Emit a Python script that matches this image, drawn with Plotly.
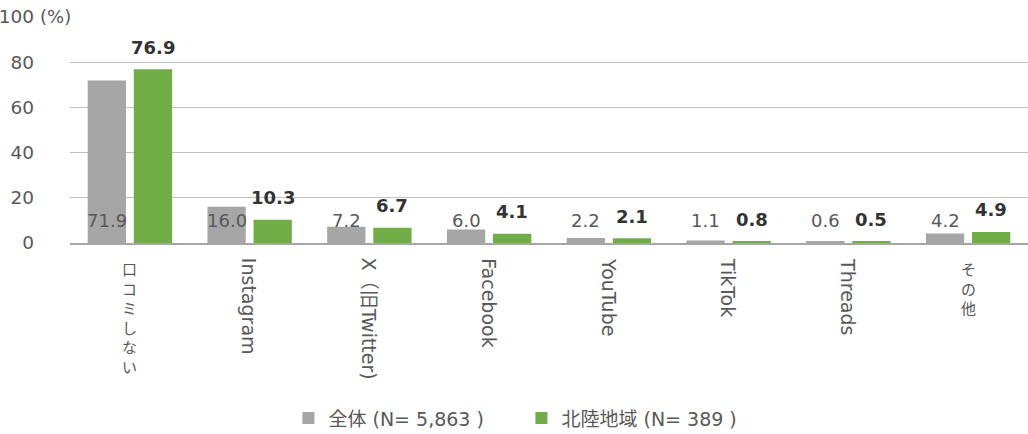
import plotly.graph_objects as go

categories = ["口コミしない", "Instagram", "X（旧Twitter)", "Facebook", "YouTube", "TikTok", "Threads", "その他"]
label_vertical_upright = [True, False, False, False, False, False, False, True]
series_names = ["全体 (N= 5,863 )", "北陸地域 (N= 389 )"]
values_all = [71.9, 16.0, 7.2, 6.0, 2.2, 1.1, 0.6, 4.2]
values_hokuriku = [76.9, 10.3, 6.7, 4.1, 2.1, 0.8, 0.5, 4.9]
y_tickvals = [0, 20, 40, 60, 80, 100]
y_ticktext = ["0", "20", "40", "60", "80", "100"]

GRAY = "#a6a6a6"
GREEN = "#70ad47"
TXT = "#595959"
FONT = "DejaVu Sans, Noto Sans CJK JP, sans-serif"

fig = go.Figure()
fig.add_trace(go.Bar(x=categories, y=values_all, name=series_names[0],
                     marker=dict(color=GRAY, line=dict(width=0))))
fig.add_trace(go.Bar(x=categories, y=values_hokuriku, name=series_names[1],
                     marker=dict(color=GREEN, line=dict(width=0))))

annotations = []
for cat, va, vh, upright in zip(categories, values_all, values_hokuriku, label_vertical_upright):
    annotations.append(dict(x=cat, y=0, xref="x", yref="y", text=f"{va:.1f}",
                            showarrow=False, xshift=-23, yshift=23, yanchor="middle",
                            font=dict(family=FONT, size=18, color=TXT)))
    annotations.append(dict(x=cat, y=vh, xref="x", yref="y", text=f"<b>{vh:.1f}</b>",
                            showarrow=False, xshift=23, yshift=22, yanchor="middle",
                            font=dict(family=FONT, size=18, color="#333333")))
    if upright:
        annotations.append(dict(x=cat, y=0, xref="x", yref="paper",
                                text="<br>".join(list(cat)), showarrow=False,
                                yanchor="top", yshift=-13, textangle=0,
                                font=dict(family="Noto Sans CJK JP", size=15, color=TXT)))
    else:
        annotations.append(dict(x=cat, y=0, xref="x", yref="paper", text=cat,
                                showarrow=False, yanchor="top", yshift=-13, textangle=90,
                                font=dict(family=FONT, size=19, color=TXT)))

annotations.append(dict(x=0, y=100, xref="paper", yref="y", text="(%)", showarrow=False,
                        xanchor="right", yanchor="middle", xshift=3,
                        font=dict(family=FONT, size=18, color=TXT)))

fig.update_layout(
    width=1028, height=434,
    margin=dict(l=70, r=0, t=16, b=191, autoexpand=False),
    paper_bgcolor="white", plot_bgcolor="white",
    barmode="group", bargap=0.23, bargroupgap=0.17,
    showlegend=True,
    legend=dict(orientation="h", x=0.228, y=-0.772, xanchor="left", yanchor="middle",
                font=dict(family=FONT, size=19, color=TXT), entrywidth=188,
                itemwidth=30, traceorder="normal"),
    annotations=annotations,
    font=dict(family=FONT, color=TXT),
)
fig.update_xaxes(showticklabels=False, showline=True, linecolor="#a6a6a6", linewidth=1.5,
                 ticks="", showgrid=False, automargin=False)
fig.update_yaxes(range=[0, 100.4], tickvals=y_tickvals, ticktext=y_ticktext,
                 showgrid=True, gridcolor="#c0c0c0", gridwidth=1.2,
                 zeroline=False, showline=False, ticks="", ticklabelstandoff=35,
                 automargin=False,
                 tickfont=dict(family=FONT, size=18.5, color=TXT))

fig.write_html("out.html", config={"displayModeBar": False},
               post_script="document.body.style.margin='0px';")
